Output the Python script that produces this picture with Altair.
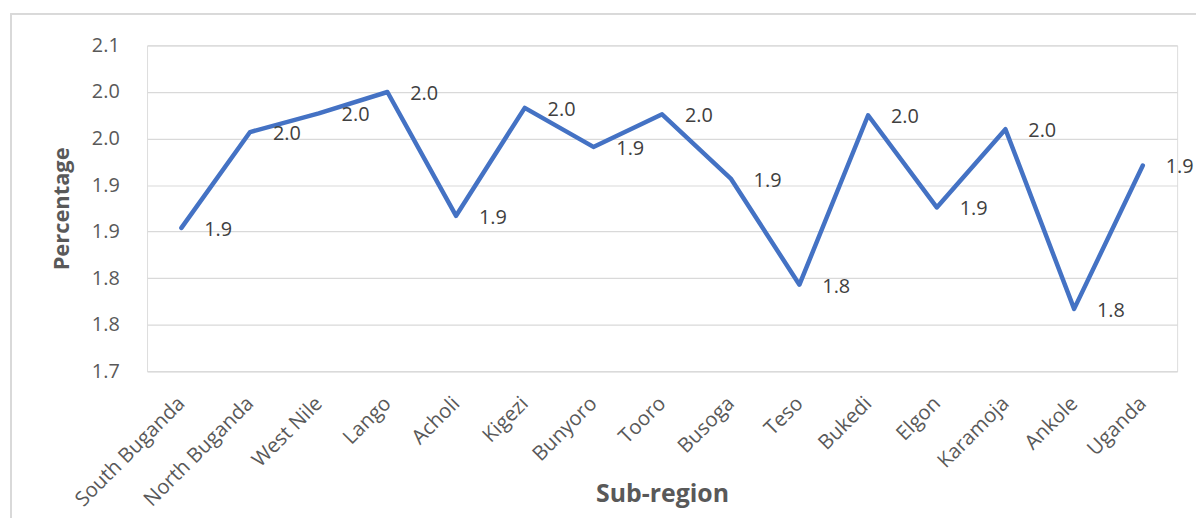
import altair as alt
import pandas as pd

regions = ["South Buganda", "North Buganda", "West Nile", "Lango", "Acholi", "Kigezi",
           "Bunyoro", "Tooro", "Busoga", "Teso", "Bukedi", "Elgon", "Karamoja",
           "Ankole", "Uganda"]
values = [1.854, 1.957, 1.977, 2.000, 1.867, 1.983, 1.941, 1.976, 1.907, 1.793,
          1.975, 1.876, 1.960, 1.767, 1.921]
y_ticks = [1.70, 1.75, 1.80, 1.85, 1.90, 1.95, 2.00, 2.05]

df = pd.DataFrame({"region": regions, "value": values})

FONT = "Open Sans"
W, H = 1037, 328
PAD_L, PAD_T, PAD_R, PAD_B = 140, 36, 19, 146

x_enc = alt.X("region:N", sort=regions, title="Sub-region",
              scale=alt.Scale(padding=0.5),
              axis=alt.Axis(labelAngle=-45, labelAlign="right", labelBaseline="middle",
                            labelPadding=29, ticks=False, domainColor="#d9d9d9",
                            labelFont=FONT, labelFontSize=20.5, labelColor="#595959",
                            titleFont=FONT, titleFontSize=25, titleFontWeight="bold",
                            titleColor="#595959", titleY=131, titleBaseline="alphabetic"))
y_enc = alt.Y("value:Q", title="Percentage",
              scale=alt.Scale(domain=[1.70, 2.05], nice=False, zero=False),
              axis=alt.Axis(values=y_ticks, labelExpr="format(datum.value + 1e-9, '.1f')",
                            ticks=False, domain=False, gridColor="#d9d9d9", gridWidth=1.2,
                            labelPadding=28, labelFont=FONT, labelFontSize=20,
                            labelColor="#595959",
                            titleFont=FONT, titleFontSize=22, titleFontWeight="bold",
                            titleColor="#595959", titleX=-86, titleBaseline="middle"))

base = alt.Chart(df)

line = base.mark_line(color="#4472C4", strokeWidth=4.5, strokeCap="round",
                      strokeJoin="round").encode(x=x_enc, y=y_enc)

labels = base.mark_text(align="left", baseline="middle", dx=23, dy=2, font=FONT,
                        fontSize=20, color="#404040").encode(
    x=alt.X("region:N", sort=regions),
    y=alt.Y("value:Q"),
    text=alt.Text("value:Q", format=".1f"))

border_top = base.mark_rule(color="#d9d9d9", strokeWidth=1.5).encode(
    x=alt.value(-137), x2=alt.value(W + PAD_R + 5), y=alt.value(-32))
border_left = base.mark_rule(color="#d9d9d9", strokeWidth=1.5).encode(
    x=alt.value(-137), y=alt.value(-32), y2=alt.value(H + PAD_B + 5))

chart = alt.layer(border_top, border_left, line, labels).properties(
    width=W, height=H,
    autosize=alt.AutoSizeParams(type="none"),
    padding={"left": PAD_L, "top": PAD_T, "right": PAD_R, "bottom": PAD_B},
).configure_view(stroke=None).configure(background="white")

chart.save("out.html", embed_options={"renderer": "svg", "actions": False})
